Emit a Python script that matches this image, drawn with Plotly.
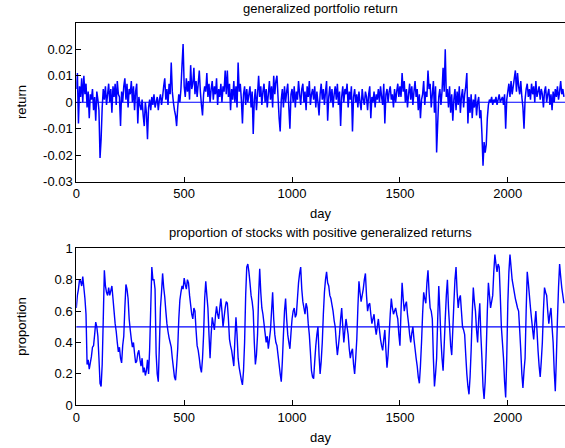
import plotly.graph_objects as go
from plotly.subplots import make_subplots

# ---------------- data ----------------
# generalized portfolio return, sampled every 5 days, in units of 0.001
ret_milli = [
    5, 11, -8, 6, 2, 9, 0, 10, 3, 7, -2, 4, -6, 3, 1, 5, -3, 2, -7, 4,
    1, -3, -21, -14, -2, 5, 1, 6, -1, 3, 7, 0, 5, -4, 6, 2, 7, -1, 8, 3,
    2, -9, 4, 0, 6, 9, 1, 7, -2, 5, 3, 8, 0, 6, -3, 4, 7, -8, 2, -1,
    -3, 1, -5, -9, 0, -4, -14, -2, 1, -3, 2, -1, 3, -2, 0, 2, -3, 1, 3, -1,
    2, 6, 9, 1, 5, -1, 7, 3, 15, 4, 0, -3, -5, -9, -2, 3, 0, 5, 14, 22,
    6, 2, 9, 4, 8, 1, 14, 5, 7, 13, 3, 8, 2, 7, 12, 4, -1, -5, 3, 6,
    4, 11, 2, 7, 0, 5, 8, 1, 6, 3, 9, -1, 5, 2, 7, 0, 6, 4, 12, 3,
    12, 2, 7, -3, 5, 1, 8, 0, 6, -2, 15, 4, 7, 1, -8, 3, 6, -1, 5, 0,
    3, 6, -2, 4, -12, 1, 5, -3, 3, 10, 2, 6, -1, 4, 7, 0, 5, -2, 3, 8,
    1, 6, -2, 10, 3, 8, 10, 2, -6, -11, 1, 5, -2, 6, 0, 4, 7, -2, -10, 3,
    5, 0, 6, -2, 4, 1, 8, 3, -1, 5, 7, 0, 4, -3, 6, 2, 8, -1, 3, 5,
    1, 6, -2, 4, 0, -5, 3, 7, 1, 5, -1, 4, 8, -7, 2, 6, 0, 5, -2, 3,
    6, 1, 7, -1, 4, -9, 2, 6, 0, 5, 3, 7, -2, 4, 1, 6, -11, 2, 5, 0,
    3, -2, 4, 0, -3, 5, 1, -1, 4, 2, -3, 3, 6, -6, 2, 0, 4, -2, 3, 1,
    5, 0, 6, 2, -1, 7, -8, 3, 5, 0, 4, 6, 1, 3, -2, 5, 0, 4, 7, 2,
    6, 2, 11, 4, 8, 0, 5, -2, 3, 7, 1, 6, -1, 4, 8, 2, 5, -3, 3, -6,
    1, 3, 8, -1, 4, 2, 12, 5, 7, -2, 3, 8, -4, 6, -19, -8, 2, 5, -1, 4,
    13, 4, 20, 2, 5, -2, 6, -4, 3, -7, 1, 5, -3, 4, -1, 6, -4, 2, 5, -2,
    3, 6, 11, -8, 2, -4, 3, -6, 1, -2, 3, -5, 0, 2, -6, -3, -12, -24, -15, -19,
    -16, -6, -1, 1, 0, 2, -1, 1, 0, 2, -1, 1, 3, 0, 1, 2, -1, 3, -10, 1,
    4, 7, 2, 8, 3, 6, 9, 12, 4, 11, 6, 3, 8, 2, -2, -10, 1, 5, 7, 2,
    5, 1, 7, 3, 6, 0, 8, 2, 4, 6, 1, 5, 3, -2, 4, 6, 0, 3, 5, -1,
    3, -3, 4, 0, 5, 2, 6, 1, 4, 8, 3, 5, 2,
]
days_top = list(range(0, 5 * len(ret_milli), 5))
returns = [v / 1000 for v in ret_milli]

# proportion of stocks with positive generalized returns, sampled every 5 days
proportion = [
    0.62, 0.70, 0.74, 0.80, 0.79, 0.76, 0.82, 0.75, 0.68, 0.58, 0.26, 0.29, 0.23, 0.27, 0.31, 0.37, 0.38, 0.45, 0.53, 0.50,
    0.44, 0.30, 0.14, 0.12, 0.26, 0.55, 0.86, 0.76, 0.72, 0.70, 0.75, 0.70, 0.73, 0.76, 0.68, 0.60, 0.52, 0.47, 0.40, 0.34,
    0.37, 0.30, 0.27, 0.38, 0.44, 0.62, 0.77, 0.74, 0.68, 0.55, 0.48, 0.42, 0.37, 0.40, 0.33, 0.27, 0.28, 0.33, 0.35, 0.29,
    0.25, 0.30, 0.21, 0.24, 0.19, 0.22, 0.29, 0.20, 0.36, 0.62, 0.88, 0.80, 0.80, 0.74, 0.33, 0.20, 0.15, 0.38, 0.62, 0.72,
    0.84, 0.75, 0.69, 0.60, 0.52, 0.47, 0.43, 0.40, 0.37, 0.30, 0.24, 0.18, 0.16, 0.25, 0.36, 0.55, 0.67, 0.72, 0.76, 0.74,
    0.81, 0.77, 0.74, 0.80, 0.78, 0.70, 0.64, 0.58, 0.55, 0.62, 0.60, 0.48, 0.38, 0.35, 0.30, 0.24, 0.21, 0.30, 0.45, 0.68,
    0.79, 0.70, 0.62, 0.45, 0.30, 0.45, 0.56, 0.52, 0.48, 0.57, 0.63, 0.58, 0.55, 0.62, 0.68, 0.60, 0.50, 0.56, 0.62, 0.66,
    0.65, 0.55, 0.42, 0.38, 0.35, 0.30, 0.25, 0.42, 0.56, 0.45, 0.30, 0.24, 0.20, 0.16, 0.13, 0.22, 0.40, 0.70, 0.88, 0.90,
    0.85, 0.78, 0.70, 0.66, 0.60, 0.40, 0.26, 0.32, 0.45, 0.70, 0.87, 0.72, 0.62, 0.58, 0.52, 0.46, 0.40, 0.44, 0.36, 0.42,
    0.48, 0.60, 0.72, 0.55, 0.45, 0.40, 0.38, 0.32, 0.26, 0.20, 0.15, 0.28, 0.45, 0.60, 0.68, 0.55, 0.45, 0.40, 0.36, 0.46,
    0.55, 0.60, 0.62, 0.56, 0.58, 0.68, 0.78, 0.84, 0.88, 0.74, 0.66, 0.62, 0.58, 0.65, 0.62, 0.52, 0.45, 0.34, 0.22, 0.18,
    0.17, 0.28, 0.38, 0.45, 0.50, 0.32, 0.20, 0.28, 0.40, 0.58, 0.72, 0.80, 0.85, 0.78, 0.76, 0.70, 0.68, 0.64, 0.60, 0.54,
    0.50, 0.40, 0.32, 0.38, 0.45, 0.55, 0.62, 0.50, 0.40, 0.48, 0.55, 0.50, 0.45, 0.36, 0.30, 0.34, 0.36, 0.26, 0.20, 0.30,
    0.42, 0.62, 0.79, 0.72, 0.66, 0.70, 0.74, 0.80, 0.84, 0.70, 0.60, 0.64, 0.65, 0.58, 0.52, 0.55, 0.58, 0.50, 0.45, 0.50,
    0.55, 0.48, 0.42, 0.38, 0.35, 0.42, 0.48, 0.35, 0.24, 0.32, 0.45, 0.58, 0.68, 0.62, 0.58, 0.60, 0.62, 0.58, 0.55, 0.45,
    0.38, 0.60, 0.78, 0.68, 0.60, 0.64, 0.66, 0.58, 0.52, 0.45, 0.40, 0.46, 0.50, 0.42, 0.36, 0.30, 0.25, 0.18, 0.14, 0.25,
    0.40, 0.58, 0.72, 0.68, 0.65, 0.78, 0.86, 0.72, 0.62, 0.60, 0.55, 0.30, 0.12, 0.20, 0.30, 0.55, 0.76, 0.60, 0.42, 0.30,
    0.22, 0.38, 0.55, 0.70, 0.80, 0.62, 0.50, 0.38, 0.32, 0.48, 0.65, 0.80, 0.88, 0.72, 0.62, 0.68, 0.70, 0.60, 0.50, 0.48,
    0.45, 0.32, 0.20, 0.12, 0.07, 0.18, 0.35, 0.58, 0.75, 0.66, 0.60, 0.48, 0.40, 0.55, 0.65, 0.45, 0.30, 0.12, 0.04, 0.15,
    0.35, 0.60, 0.78, 0.70, 0.62, 0.66, 0.70, 0.85, 0.96, 0.90, 0.85, 0.90, 0.88, 0.70, 0.50, 0.40, 0.30, 0.15, 0.05, 0.30,
    0.65, 0.85, 0.96, 0.88, 0.80, 0.76, 0.72, 0.68, 0.65, 0.62, 0.60, 0.48, 0.35, 0.20, 0.11, 0.22, 0.30, 0.60, 0.85, 0.78,
    0.70, 0.62, 0.55, 0.48, 0.42, 0.52, 0.60, 0.48, 0.35, 0.25, 0.18, 0.28, 0.40, 0.60, 0.75, 0.72, 0.70, 0.60, 0.52, 0.58,
    0.62, 0.50, 0.40, 0.22, 0.09, 0.30, 0.55, 0.75, 0.90, 0.82, 0.75, 0.70, 0.65,
]
days_bot = list(range(0, 5 * len(proportion), 5))

ref_levels = [0, 0.5]

x_ticks = [0, 500, 1000, 1500, 2000]
top_y_ticks = [-0.03, -0.02, -0.01, 0, 0.01, 0.02]
top_y_text = ["-0.03", "-0.02", "-0.01", "0", "0.01", "0.02"]
bot_y_ticks = [0, 0.2, 0.4, 0.6, 0.8, 1]
bot_y_text = ["0", "0.2", "0.4", "0.6", "0.8", "1"]

titles = ["generalized portfolio return",
          "proportion of stocks with positive generalized returns"]
x_label = "day"
y_labels = ["return", "proportion"]

# ---------------- figure ----------------
W, H = 565, 448
FONT = "Liberation Sans, Arial, Helvetica, sans-serif"
FS = 13
BLUE = "#0000ff"

fig = make_subplots(rows=2, cols=1)

fig.add_trace(go.Scatter(x=days_top, y=returns, mode="lines",
                         line=dict(color=BLUE, width=1.5, simplify=False),
                         showlegend=False),
              row=1, col=1)
fig.add_trace(go.Scatter(x=days_bot, y=proportion, mode="lines",
                         line=dict(color=BLUE, width=1.4, simplify=False),
                         showlegend=False),
              row=2, col=1)

fig.add_hline(y=ref_levels[0], line=dict(color=BLUE, width=1.2), row=1, col=1)
fig.add_hline(y=ref_levels[1], line=dict(color=BLUE, width=1.2), row=2, col=1)

x_left = 76.3 / W
axis_common = dict(showline=True, linecolor="black", linewidth=1, mirror=True,
                   ticks="inside", ticklen=5, tickcolor="black", tickwidth=1,
                   showgrid=False, zeroline=False, automargin=False,
                   tickfont=dict(family=FONT, size=FS, color="black"))

fig.update_xaxes(range=[0, 2265], tickvals=x_ticks, domain=[x_left, 1.0],
                 **axis_common)
fig.update_yaxes(**axis_common)

fig.update_layout(
    yaxis=dict(domain=[(H - 181.7) / H, (H - 23.3) / H], range=[-0.03, 0.0298],
               tickvals=top_y_ticks, ticktext=top_y_text),
    yaxis2=dict(domain=[(H - 405.3) / H, (H - 248.3) / H], range=[0, 1],
                tickvals=bot_y_ticks, ticktext=bot_y_text),
)

ann_font = dict(family=FONT, size=FS, color="black")
annotations = [
    dict(text=titles[0], x=320.6 / W, y=1 - 8 / H),
    dict(text=titles[1], x=320.6 / W, y=1 - 232 / H),
    dict(text=x_label, x=320.6 / W, y=1 - 213 / H),
    dict(text=x_label, x=320.6 / W, y=1 - 437 / H),
    dict(text=y_labels[0], x=22 / W, y=1 - 102 / H, textangle=-90),
    dict(text=y_labels[1], x=22 / W, y=1 - 326.8 / H, textangle=-90),
]
for a in annotations:
    a.update(xref="paper", yref="paper", showarrow=False, font=ann_font,
             xanchor="center", yanchor="middle")

fig.update_layout(
    width=W, height=H,
    margin=dict(l=0, r=0, t=0, b=0),
    paper_bgcolor="white", plot_bgcolor="white",
    annotations=annotations,
    font=dict(family=FONT, size=FS, color="black"),
)

fig.write_html("out.html")
